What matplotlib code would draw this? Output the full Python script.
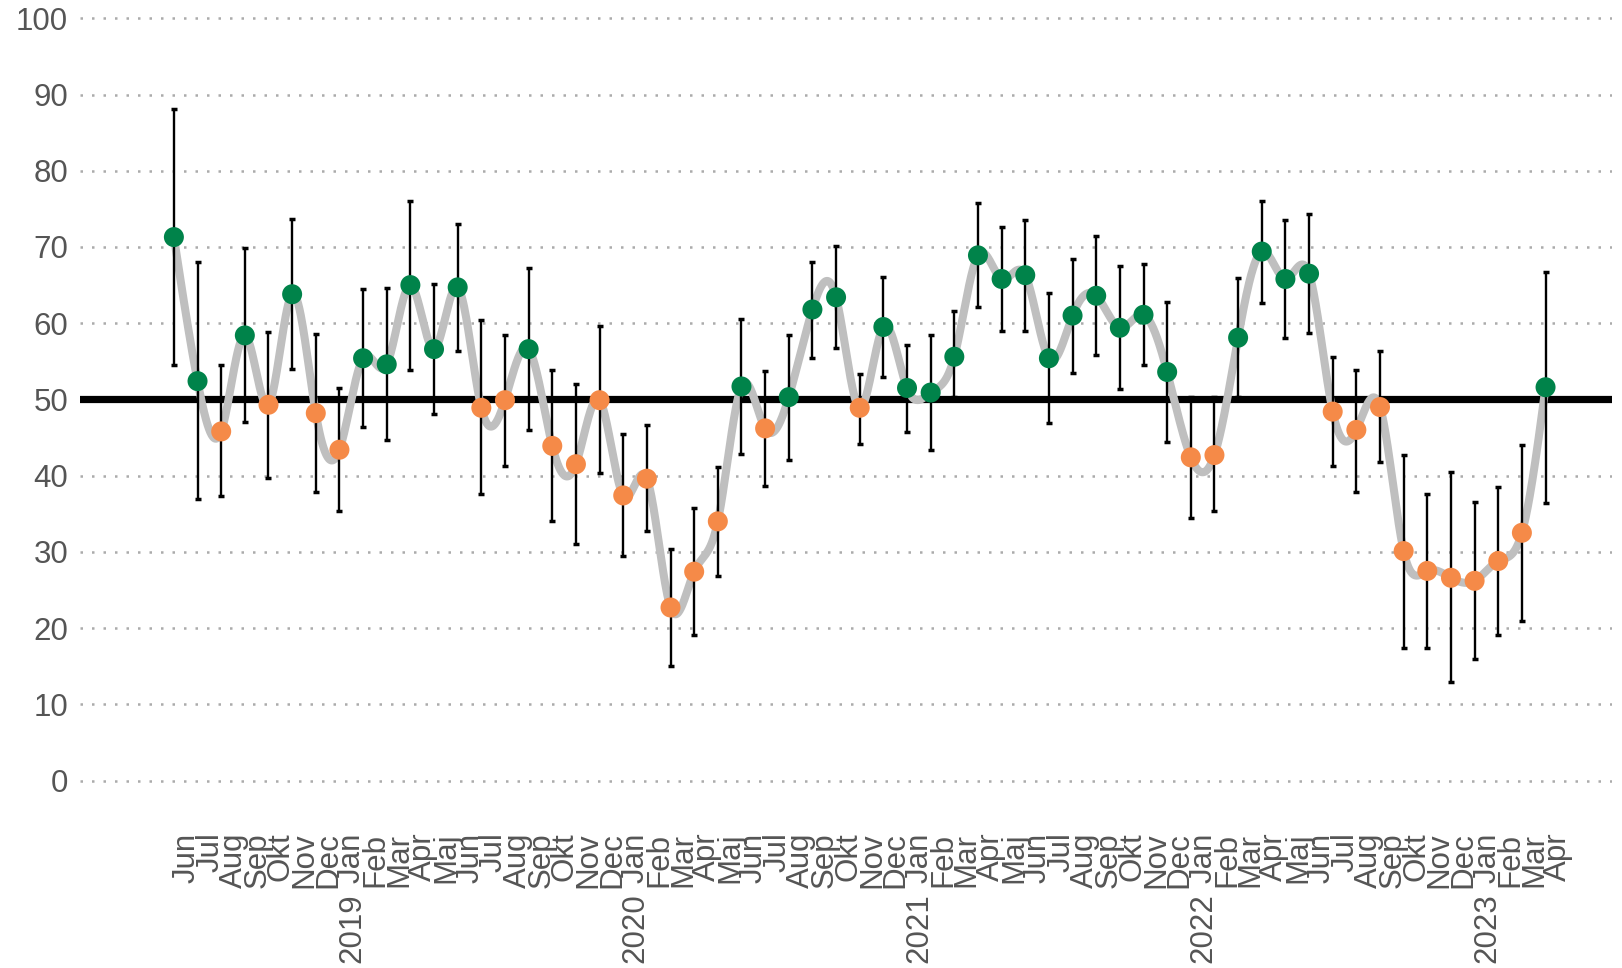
import numpy as np
import matplotlib
matplotlib.use("Agg")
import matplotlib.pyplot as plt
from matplotlib.transforms import offset_copy

plt.rcParams['font.family'] = ['Liberation Sans', 'DejaVu Sans']

months = ["Jun", "Jul", "Aug", "Sep", "Okt", "Nov", "Dec",
          "Jan", "Feb", "Mar", "Apr", "Maj", "Jun", "Jul", "Aug", "Sep", "Okt", "Nov", "Dec",
          "Jan", "Feb", "Mar", "Apr", "Maj", "Jun", "Jul", "Aug", "Sep", "Okt", "Nov", "Dec",
          "Jan", "Feb", "Mar", "Apr", "Maj", "Jun", "Jul", "Aug", "Sep", "Okt", "Nov", "Dec",
          "Jan", "Feb", "Mar", "Apr", "Maj", "Jun", "Jul", "Aug", "Sep", "Okt", "Nov", "Dec",
          "Jan", "Feb", "Mar", "Apr"]
years = ["2019", "2020", "2021", "2022", "2023"]
year_start_idx = [7, 19, 31, 43, 55]

values = [71.3, 52.4, 45.8, 58.4, 49.3, 63.8, 48.2,
          43.4, 55.4, 54.6, 65.0, 56.6, 64.7, 48.9, 49.9, 56.6, 43.9, 41.5, 49.9,
          37.4, 39.6, 22.7, 27.4, 34.0, 51.7, 46.2, 50.3, 61.8, 63.4, 48.9, 59.5,
          51.5, 50.9, 55.6, 68.9, 65.8, 66.3, 55.4, 61.0, 63.6, 59.4, 61.1, 53.6,
          42.4, 42.7, 58.1, 69.4, 65.8, 66.5, 48.4, 46.0, 49.0, 30.1, 27.5, 26.6,
          26.2, 28.8, 32.5, 51.6]
upper = [88.1, 68.0, 54.5, 69.9, 58.8, 73.7, 58.6,
         51.5, 64.5, 64.6, 76.0, 65.2, 73.0, 60.4, 58.4, 67.2, 53.9, 52.0, 59.6,
         45.4, 46.6, 30.4, 35.7, 41.1, 60.6, 53.7, 58.4, 68.0, 70.1, 53.4, 66.0,
         57.2, 58.4, 61.6, 75.8, 72.6, 73.6, 63.9, 68.4, 71.4, 67.5, 67.8, 62.8,
         50.3, 50.3, 65.9, 76.0, 73.5, 74.3, 55.5, 53.9, 56.3, 42.7, 37.6, 40.5,
         36.5, 38.5, 44.0, 66.7]
lower = [54.5, 36.9, 37.3, 47.0, 39.7, 54.0, 37.8,
         35.4, 46.4, 44.7, 53.9, 48.1, 56.3, 37.6, 41.2, 46.0, 34.0, 31.0, 40.3,
         29.5, 32.7, 15.0, 19.1, 26.8, 42.8, 38.7, 42.1, 55.4, 56.8, 44.2, 53.0,
         45.7, 43.4, 50.3, 62.1, 59.0, 59.0, 46.9, 53.5, 55.8, 51.4, 54.5, 44.4,
         34.5, 35.4, 50.3, 62.6, 58.1, 58.7, 41.3, 37.9, 41.8, 17.4, 17.4, 12.9,
         16.0, 19.1, 20.9, 36.4]
threshold = 50

GREEN = "#00834A"
ORANGE = "#F58A48"
TEXT = "#555555"
FS = 22.5

x = np.arange(len(values), dtype=float)
y = np.array(values)


def natural_cubic(xk, yk, xs):
    n = len(xk)
    h = np.diff(xk)
    A = np.zeros((n, n))
    b = np.zeros(n)
    A[0, 0] = 1
    A[-1, -1] = 1
    for i in range(1, n - 1):
        A[i, i - 1] = h[i - 1]
        A[i, i] = 2 * (h[i - 1] + h[i])
        A[i, i + 1] = h[i]
        b[i] = 6 * ((yk[i + 1] - yk[i]) / h[i] - (yk[i] - yk[i - 1]) / h[i - 1])
    M = np.linalg.solve(A, b)
    idx = np.clip(np.searchsorted(xk, xs) - 1, 0, n - 2)
    x0, x1 = xk[idx], xk[idx + 1]
    hh = x1 - x0
    t0 = x1 - xs
    t1 = xs - x0
    return (M[idx] * t0 ** 3 / (6 * hh) + M[idx + 1] * t1 ** 3 / (6 * hh)
            + (yk[idx] / hh - M[idx] * hh / 6) * t0
            + (yk[idx + 1] / hh - M[idx + 1] * hh / 6) * t1)


fig = plt.figure(figsize=(16.22, 9.68), dpi=100)
W, H = 1622, 968
ax_left, ax_right, ax_top, ax_bot = 80, 1612, 10.7, 811
ax = fig.add_axes([ax_left / W, 1 - ax_bot / H, (ax_right - ax_left) / W, (ax_bot - ax_top) / H])

ax.set_xlim(-3.97, 60.81)
ax.set_ylim(-4, 101)

for s in ax.spines.values():
    s.set_visible(False)

ax.set_yticks(np.arange(0, 101, 10))
ax.tick_params(axis='y', length=0, pad=8.5, labelsize=FS, labelcolor=TEXT)
ax.set_xticks([])
ax.grid(axis='y', linestyle=(0, (1, 3.6)), linewidth=1.8, color='#ababab')
ax.set_axisbelow(True)

ax.axhline(threshold, color='black', linewidth=5.2, zorder=2)

xs = np.linspace(x[0], x[-1], 2000)
ax.plot(xs, natural_cubic(x, y, xs), color='#bfbfbf', linewidth=5.8,
        solid_capstyle='round', zorder=3)

yerr = np.vstack([y - np.array(lower), np.array(upper) - y])
ax.errorbar(x, y, yerr=yerr, fmt='none', ecolor='black', elinewidth=1.7,
            capsize=2.4, capthick=2.5, zorder=4)

colors = [GREEN if v >= threshold else ORANGE for v in values]
ax.scatter(x, y, s=14.4 ** 2, c=colors, edgecolors='none', zorder=5)

trans = offset_copy(ax.get_xaxis_transform(), fig=fig, x=12.5, y=0, units='dots')
for i, lab in enumerate(months):
    ax.text(i, -0.027, lab, rotation=90, ha='center', va='top',
            fontsize=FS, color=TEXT, transform=trans)
for i, yr in zip(year_start_idx, years):
    ax.text(i, -0.103, yr, rotation=90, ha='center', va='top',
            fontsize=FS, color=TEXT, transform=trans)

fig.savefig("out.png", dpi=100)
